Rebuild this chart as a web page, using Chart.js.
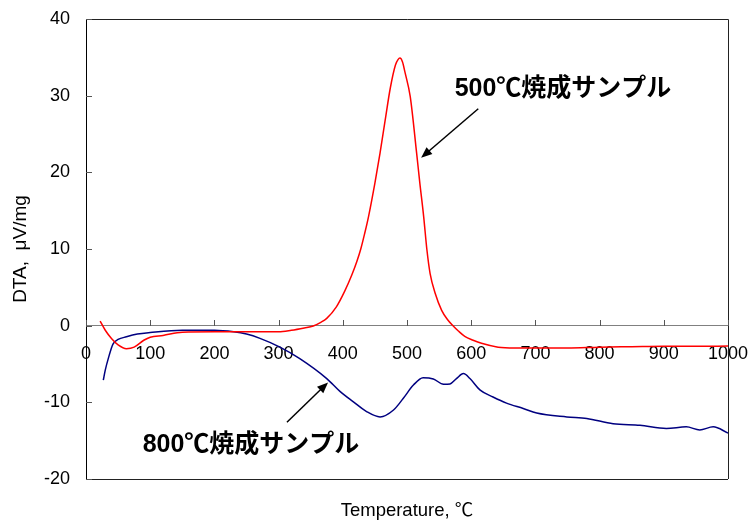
<!DOCTYPE html>
<html>
<head>
<meta charset="utf-8">
<script src="https://cdn.jsdelivr.net/npm/chart.js@4/dist/chart.umd.min.js"></script>
<style>
  html, body { margin: 0; padding: 0; background: #fff; }
</style>
</head>
<body>
<canvas id="dtaChart" width="750" height="521"></canvas>
<script>
// 500℃焼成サンプル (red)
var redTemp = [22, 30, 40, 50, 63, 75, 90, 100, 120, 150, 200, 250, 300, 320, 340, 354, 365, 375, 390, 403, 414, 422, 428, 434, 440, 450, 458, 466, 474, 482, 486, 489, 493, 497, 505, 515, 520, 526, 531, 536, 544, 554, 563, 572, 580, 590, 603, 616, 642, 668, 700, 750, 800, 850, 900, 950, 1000];
var redDta  = [0.6, -0.6, -1.7, -2.5, -3.0, -2.8, -1.9, -1.5, -1.27, -0.85, -0.8, -0.8, -0.8, -0.6, -0.3, -0.05, 0.4, 0.95, 2.45, 4.5, 6.6, 8.4, 10.0, 12.0, 14.2, 18.6, 22.5, 26.8, 31.0, 34.0, 34.7, 34.9, 34.4, 33.0, 29.9, 22.5, 18.6, 14.2, 9.9, 6.8, 4.2, 2.0, 0.8, -0.05, -0.7, -1.4, -1.9, -2.3, -2.8, -2.9, -2.9, -2.9, -2.8, -2.75, -2.7, -2.7, -2.65];

// 800℃焼成サンプル (blue)
var blueTemp = [27, 30, 35, 42, 50, 63, 80, 100, 150, 200, 230, 250, 271, 302, 333, 375, 396, 416, 437, 458, 479, 494, 510, 525, 541, 557, 567, 577, 588, 598, 614, 634, 655, 681, 702, 749, 780, 821, 863, 904, 935, 956, 977, 1000];
var blueDta  = [-7.1, -5.8, -4.2, -2.4, -1.8, -1.45, -1.1, -0.9, -0.6, -0.6, -0.8, -1.1, -1.66, -2.8, -4.3, -6.9, -8.6, -9.9, -11.2, -11.9, -11.0, -9.5, -7.75, -6.8, -6.95, -7.65, -7.6, -6.9, -6.25, -6.9, -8.4, -9.3, -10.1, -10.8, -11.4, -11.9, -12.1, -12.8, -13.0, -13.4, -13.2, -13.6, -13.2, -14.0];

var yTicks = [-20, -10, 0, 10, 20, 30, 40];
var xTicks = [0, 100, 200, 300, 400, 500, 600, 700, 800, 900, 1000];

function toPoints(xs, ys) {
    return xs.map(function(x, i) { return { x: x, y: ys[i] }; });
}

var tickFont = { family: 'Liberation Sans, Arial, sans-serif', size: 18 };
var labelFont = 'bold 25px "Liberation Sans", "Noto Sans CJK JP", sans-serif';

// frame, inward ticks, x-axis title and the two callouts
var decorPlugin = {
    id: 'decor',
    afterDraw: function(chart) {
        var ctx = chart.ctx;
        var xs = chart.scales.x, ys = chart.scales.y;
        var a = chart.chartArea;
        ctx.save();

        // top, right and bottom frame
        ctx.strokeStyle = '#222';
        ctx.lineWidth = 1;
        ctx.beginPath();
        ctx.moveTo(a.left, a.top + 0.5);
        ctx.lineTo(a.right + 0.5, a.top + 0.5);
        ctx.lineTo(a.right + 0.5, a.bottom);
        ctx.moveTo(a.left, a.bottom + 0.5);
        ctx.lineTo(a.right, a.bottom + 0.5);
        ctx.stroke();

        // ticks
        ctx.strokeStyle = '#555';
        ctx.beginPath();
        yTicks.forEach(function(v) {
            var py = Math.round(ys.getPixelForValue(v)) + 0.5;
            ctx.moveTo(a.left, py);
            ctx.lineTo(a.left + 6, py);
        });
        var y0 = Math.round(ys.getPixelForValue(0));
        xTicks.forEach(function(v) {
            var px = Math.round(xs.getPixelForValue(v)) + 0.5;
            ctx.moveTo(px, y0);
            ctx.lineTo(px, y0 - 6);
        });
        ctx.stroke();

        // x-axis title
        ctx.fillStyle = '#000';
        ctx.font = '18.5px "Liberation Sans", "Noto Sans CJK JP", sans-serif';
        ctx.textAlign = 'center';
        ctx.textBaseline = 'middle';
        ctx.fillText('Temperature, ℃', (a.left + a.right) / 2, 511);

        // callouts
        ctx.font = labelFont;
        ctx.fillText('500℃焼成サンプル', xs.getPixelForValue(743), ys.getPixelForValue(30.8));
        ctx.fillText('800℃焼成サンプル', xs.getPixelForValue(257), ys.getPixelForValue(-15.6));
        arrow(ctx, xs.getPixelForValue(611), ys.getPixelForValue(28.3), xs.getPixelForValue(522), ys.getPixelForValue(21.9));
        arrow(ctx, xs.getPixelForValue(313), ys.getPixelForValue(-12.6), xs.getPixelForValue(377), ys.getPixelForValue(-7.4));
        ctx.restore();
    }
};

function arrow(ctx, x1, y1, x2, y2) {
    var ang = Math.atan2(y2 - y1, x2 - x1);
    var len = 11, half = 4.5;
    ctx.strokeStyle = '#000';
    ctx.fillStyle = '#000';
    ctx.lineWidth = 1.5;
    ctx.beginPath();
    ctx.moveTo(x1, y1);
    ctx.lineTo(x2 - Math.cos(ang) * len * 0.8, y2 - Math.sin(ang) * len * 0.8);
    ctx.stroke();
    ctx.beginPath();
    ctx.moveTo(x2, y2);
    ctx.lineTo(x2 - Math.cos(ang) * len - Math.sin(ang) * half, y2 - Math.sin(ang) * len + Math.cos(ang) * half);
    ctx.lineTo(x2 - Math.cos(ang) * len + Math.sin(ang) * half, y2 - Math.sin(ang) * len - Math.cos(ang) * half);
    ctx.closePath();
    ctx.fill();
}

var ctxDta = document.getElementById('dtaChart').getContext('2d');
var dtaChart = new Chart(ctxDta, {
    type: 'line',
    data: {
        datasets: [{
            label: '500℃焼成サンプル',
            data: toPoints(redTemp, redDta),
            borderColor: '#ff0000',
            borderWidth: 1.5,
            pointRadius: 0,
            cubicInterpolationMode: 'monotone'
        }, {
            label: '800℃焼成サンプル',
            data: toPoints(blueTemp, blueDta),
            borderColor: '#000080',
            borderWidth: 1.5,
            pointRadius: 0,
            cubicInterpolationMode: 'monotone'
        }]
    },
    options: {
        responsive: false,
        animation: false,
        devicePixelRatio: 1,
        layout: { padding: { top: 19, right: 22, bottom: 42, left: 0 } },
        plugins: {
            legend: { display: false },
            tooltip: { enabled: false }
        },
        scales: {
            x: {
                type: 'linear',
                position: { y: 0 },
                min: 0,
                max: 1000,
                afterBuildTicks: function(scale) {
                    scale.ticks = xTicks.map(function(v) { return { value: v }; });
                },
                afterFit: function(scale) {
                    scale.paddingLeft = 0;
                    scale.paddingRight = 0;
                },
                grid: { drawOnChartArea: false, drawTicks: false },
                border: { color: '#808080', width: 1 },
                ticks: {
                    color: '#000', font: tickFont, padding: 18, maxRotation: 0, autoSkip: false,
                    callback: function(value) { return String(value); }
                }
            },
            y: {
                type: 'linear',
                min: -20,
                max: 40,
                afterBuildTicks: function(scale) {
                    scale.ticks = yTicks.map(function(v) { return { value: v }; });
                },
                afterFit: function(scale) {
                    scale.width = 86;
                    scale.paddingTop = 0;
                    scale.paddingBottom = 0;
                },
                grid: { drawOnChartArea: false, drawTicks: false },
                border: { color: '#000', width: 1 },
                ticks: { color: '#000', font: tickFont, padding: 16 },
                title: {
                    display: true,
                    text: 'DTA,  μV/mg',
                    color: '#000',
                    font: { family: 'Liberation Sans, Arial, sans-serif', size: 19 },
                    padding: { top: 9, bottom: 0 }
                }
            }
        }
    },
    plugins: [decorPlugin]
});
</script>
</body>
</html>
